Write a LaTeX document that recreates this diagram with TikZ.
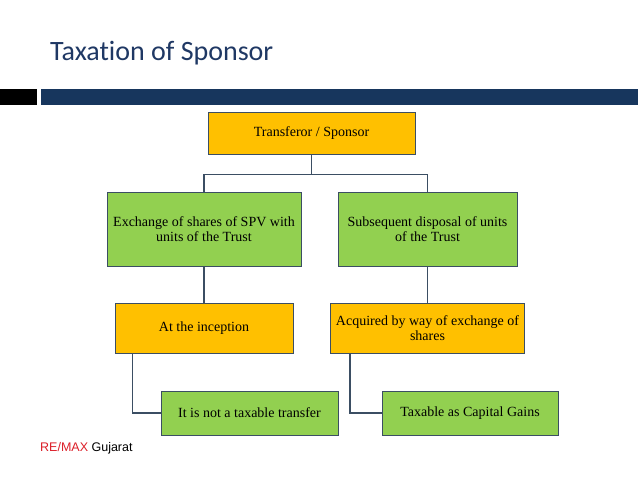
\documentclass[tikz,border=0pt]{standalone}
\usepackage{fontspec}
\newfontfamily\titlefont[RawFeature=-liga]{Carlito}
\newfontfamily\footfont{Liberation Sans}
\newfontfamily\boxfont{Liberation Serif}
\definecolor{titleblue}{RGB}{31,56,100}
\definecolor{barblue}{RGB}{23,54,93}
\definecolor{boxorange}{RGB}{255,192,0}
\definecolor{boxgreen}{RGB}{146,208,80}
\definecolor{linecol}{RGB}{59,78,99}
\definecolor{remaxred}{RGB}{220,30,40}
\begin{document}
\begin{tikzpicture}[x=1pt,y=-1pt,
  box/.style={draw=linecol, line width=1pt, inner sep=1pt, align=center,
    font=\boxfont\fontsize{14}{15}\selectfont},
  obox/.style={box, fill=boxorange},
  gbox/.style={box, fill=boxgreen},
  conn/.style={draw=linecol, line width=1.2pt}]
\useasboundingbox (0,0) rectangle (638,479);
\fill[white] (0,0) rectangle (638,479);
% title
\node[anchor=base west, inner sep=0, text=titleblue, font=\titlefont\fontsize{28}{30}\selectfont] (title) at (50,60) {Taxation of Sponsor};
% bars
\fill[black] (0,89) rectangle (37,105);
\fill[barblue] (41,89) rectangle (638,105);
% boxes
\node[obox, minimum width=207pt, minimum height=42pt] (top) at (311.5,133) {Transferor / Sponsor};
\node[gbox, minimum width=194pt, minimum height=74pt] (g1) at (204,229) {Exchange of shares of SPV with\\units of the Trust};
\node[gbox, minimum width=179pt, minimum height=74pt] (g2) at (427.5,229) {Subsequent disposal of units\\of the Trust};
\node[obox, minimum width=178pt, minimum height=50pt] (o1) at (204,328) {At the inception};
\node[obox, minimum width=194pt, minimum height=50pt] (o2) at (427.5,328) {Acquired by way of exchange of\\shares};
\node[gbox, minimum width=177pt, minimum height=44pt] (g3) at (249.5,413) {It is not a taxable transfer};
\node[gbox, minimum width=176pt, minimum height=44pt] (g4) at (470,413) {Taxable as Capital Gains};
% connectors
\draw[conn] (top.south) -- ++(0,20) coordinate (j) -| (g1.north);
\draw[conn] (j) -| (g2.north);
\draw[conn] (g1.south) -- (o1.north);
\draw[conn] (g2.south) -- (o2.north);
\draw[conn] ([xshift=18pt]o1.south west) |- (g3.west);
\draw[conn] ([xshift=20pt]o2.south west) |- (g4.west);
% footer
\node[anchor=base west, inner sep=0, font=\footfont\fontsize{12.5}{14}\selectfont] (foot) at (40,451) {\textcolor{remaxred}{RE/MAX} Gujarat};
\end{tikzpicture}
\end{document}
